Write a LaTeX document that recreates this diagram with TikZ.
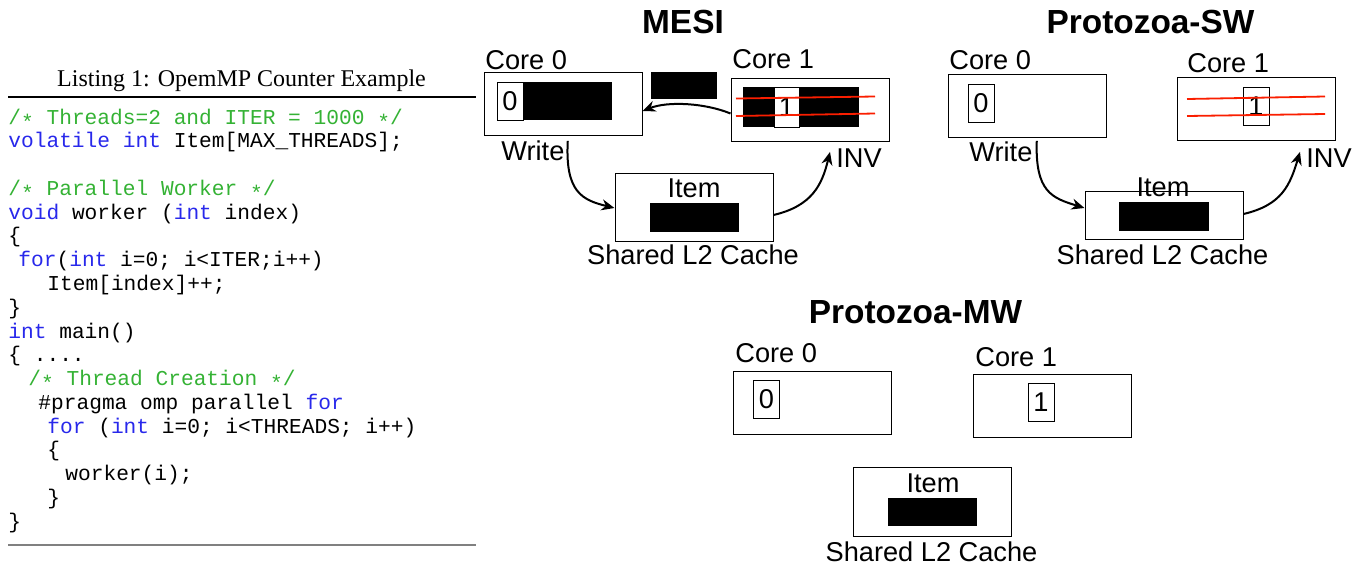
\documentclass[tikz,border=0pt]{standalone}
\usepackage{fontspec}
\setmainfont{Liberation Serif}
\setmonofont{Liberation Mono}
\newfontfamily\hv{Liberation Sans}
\usetikzlibrary{arrows.meta}
\definecolor{cmtgreen}{RGB}{52,178,52}
\definecolor{kwblue}{RGB}{40,40,235}
\definecolor{invred}{RGB}{250,30,0}
\newcommand\cmt[1]{\textcolor{cmtgreen}{#1}}
\newcommand\kw[1]{\textcolor{kwblue}{#1}}
\newcommand\cstar{\raisebox{-0.25em}{*}}

\begin{document}
\begin{tikzpicture}[x=0.5pt,y=-0.5pt,
  core/.style={draw, line width=0.5pt, minimum width=79pt, minimum height=31.5pt, inner sep=0pt},
  cell/.style={draw, fill=white, line width=0.5pt, minimum width=13pt, minimum height=19pt, inner sep=0pt, font=\hv\fontsize{13.6}{14}\selectfont},
  blk/.style={fill=black, inner sep=0pt},
  lbl/.style={inner sep=0pt, anchor=base west, font=\hv\fontsize{13.6}{14}\selectfont},
  mid/.style={lbl, anchor=base},
  ttl/.style={inner sep=0pt, anchor=base, font=\hv\bfseries\fontsize{16.7}{18}\selectfont},
  code/.style={inner sep=0pt, anchor=base west, font=\ttfamily\fontsize{10.6}{12}\selectfont},
  flow/.style={-{Stealth[length=6.5pt,width=5.5pt]}, line width=1pt},
  inv/.style={invred, line width=0.9pt}]
\useasboundingbox (0,0) rectangle (1361,568);

% listing
\node[inner sep=0pt, anchor=base, font=\fontsize{12}{14}\selectfont] (cap) at (241.5,86) {Listing 1: OpemMP Counter Example};
\draw[line width=0.6pt] (8,97) -- (476,97);
\node[code] (l1) at (8,124) {\cmt{/\cstar{} Threads=2 and ITER = 1000 \cstar/}};
\node[code] (l2) at (8,147.8) {\kw{volatile} \kw{int} Item[MAX\_THREADS];};
\node[code] (l4) at (8,195.3) {\cmt{/\cstar{} Parallel Worker \cstar/}};
\node[code] (l5) at (8,219.1) {\kw{void} worker (\kw{int} index)};
\node[code] (l6) at (8,242.9) {\{};
\node[code] (l7) at (18,266.7) {\kw{for}(\kw{int} i=0; i<ITER;i++)};
\node[code] (l8) at (47,290.5) {Item[index]++;};
\node[code] (l9) at (8,314.2) {\}};
\node[code] (l10) at (8,338) {\kw{int} main()};
\node[code] (l11) at (8,361.8) {\{ ....};
\node[code] (l12) at (28,385.6) {\cmt{/\cstar{} Thread Creation \cstar/}};
\node[code] (l13) at (38,409.4) {\#pragma omp parallel \kw{for}};
\node[code] (l14) at (47,433.1) {\kw{for} (\kw{int} i=0; i<THREADS; i++)};
\node[code] (l15) at (47,456.9) {\{};
\node[code] (l16) at (65,480.7) {worker(i);};
\node[code] (l17) at (47,504.5) {\}};
\node[code] (l18) at (8,528.3) {\}};
\draw[gray, line width=0.8pt] (8,545) -- (476,545);

% MESI
\node[ttl] (mt) at (683,33) {MESI};
\node[core] (m0) at (563,104) {};
\node[lbl] at (485,69) {Core 0};
\node[blk, minimum width=44.5pt, minimum height=19pt] (m0b) at (567.5,101) {};
\node[cell] (m0c) at (510,101) {0};
\node[blk, minimum width=33pt, minimum height=13.5pt] (mx) at (684,85.5) {};
\node[core] (m1) at (810,109.5) {};
\node[lbl] at (732,68) {Core 1};
\node[blk, minimum width=58pt, minimum height=20pt] (m1b) at (801,107) {};
\node[cell, minimum width=12.5pt, minimum height=20pt] (m1c) at (786.5,107) {1};
\draw[inv] (736,98.5) -- (875,96.5);
\draw[inv] (736,116) -- (875,113.5);
\node[core, minimum height=34pt] (mL) at (694,207) {};
\node[mid] (mi) at (694,197) {Item};
\node[blk, minimum width=44.5pt, minimum height=14.5pt] (mLb) at (694.5,217.5) {};
\node[mid] (ms) at (693,264) {Shared L2 Cache};
\node[lbl] (mw) at (501,160) {Write};
\node[lbl] (mv) at (836,167) {INV};
\draw[flow] ([yshift=-2pt]m1.west) .. controls (705,103) and (668,101) .. ([yshift=-3.5pt]m0.east);
\draw[flow] ([xshift=1.5pt,yshift=-0.5pt]mw.north east) .. controls (565,192) and (582,200) .. ([yshift=-0.5pt]mL.west);
\draw[flow] ([yshift=-4pt]mL.east) .. controls (812,206) and (822,185) .. ([xshift=-3pt,yshift=-2pt]mv.north west);

% Protozoa-SW
\node[ttl] (st) at (1150.5,33) {Protozoa-SW};
\node[core] (s0) at (1027,105.5) {};
\node[lbl] at (949,69) {Core 0};
\node[cell] (s0c) at (981,103.5) {0};
\node[core] (s1) at (1256,109) {};
\node[lbl] at (1187,72) {Core 1};
\node[cell] (s1c) at (1256,106.5) {1};
\draw[inv] (1187,99) -- (1325,96.5);
\draw[inv] (1187,116) -- (1325,114);
\node[core, minimum height=24pt] (sL) at (1164,215) {};
\node[mid] (si) at (1163,196) {Item};
\node[blk, minimum width=45pt, minimum height=14.5pt] (sLb) at (1164,216.5) {};
\node[mid] (ss) at (1162.5,264) {Shared L2 Cache};
\node[lbl] (sw) at (969,161) {Write};
\node[lbl] (sv) at (1306,167) {INV};
\draw[flow] ([xshift=2pt]sw.north east) .. controls (1035,192) and (1052,198) .. ([yshift=3.5pt]sL.west);
\draw[flow] ([yshift=0.5pt]sL.east) .. controls (1282,205) and (1290,185) .. ([xshift=-3pt,yshift=-2pt]sv.north west);

% Protozoa-MW
\node[ttl] (wt) at (915.5,323) {Protozoa-MW};
\node[core] (w0) at (812.5,402.5) {};
\node[lbl] at (735,362) {Core 0};
\node[cell] (w0c) at (766.5,399) {0};
\node[core] (w1) at (1052.5,405.5) {};
\node[lbl] at (975,366) {Core 1};
\node[cell] (w1c) at (1041,402.5) {1};
\node[core, minimum height=34.5pt] (wL) at (932.5,501.5) {};
\node[mid] (wi) at (933,492) {Item};
\node[blk, minimum width=44.5pt, minimum height=14pt] (wLb) at (932.5,512) {};
\node[mid] (ws) at (931.5,561) {Shared L2 Cache};
\end{tikzpicture}
\end{document}
